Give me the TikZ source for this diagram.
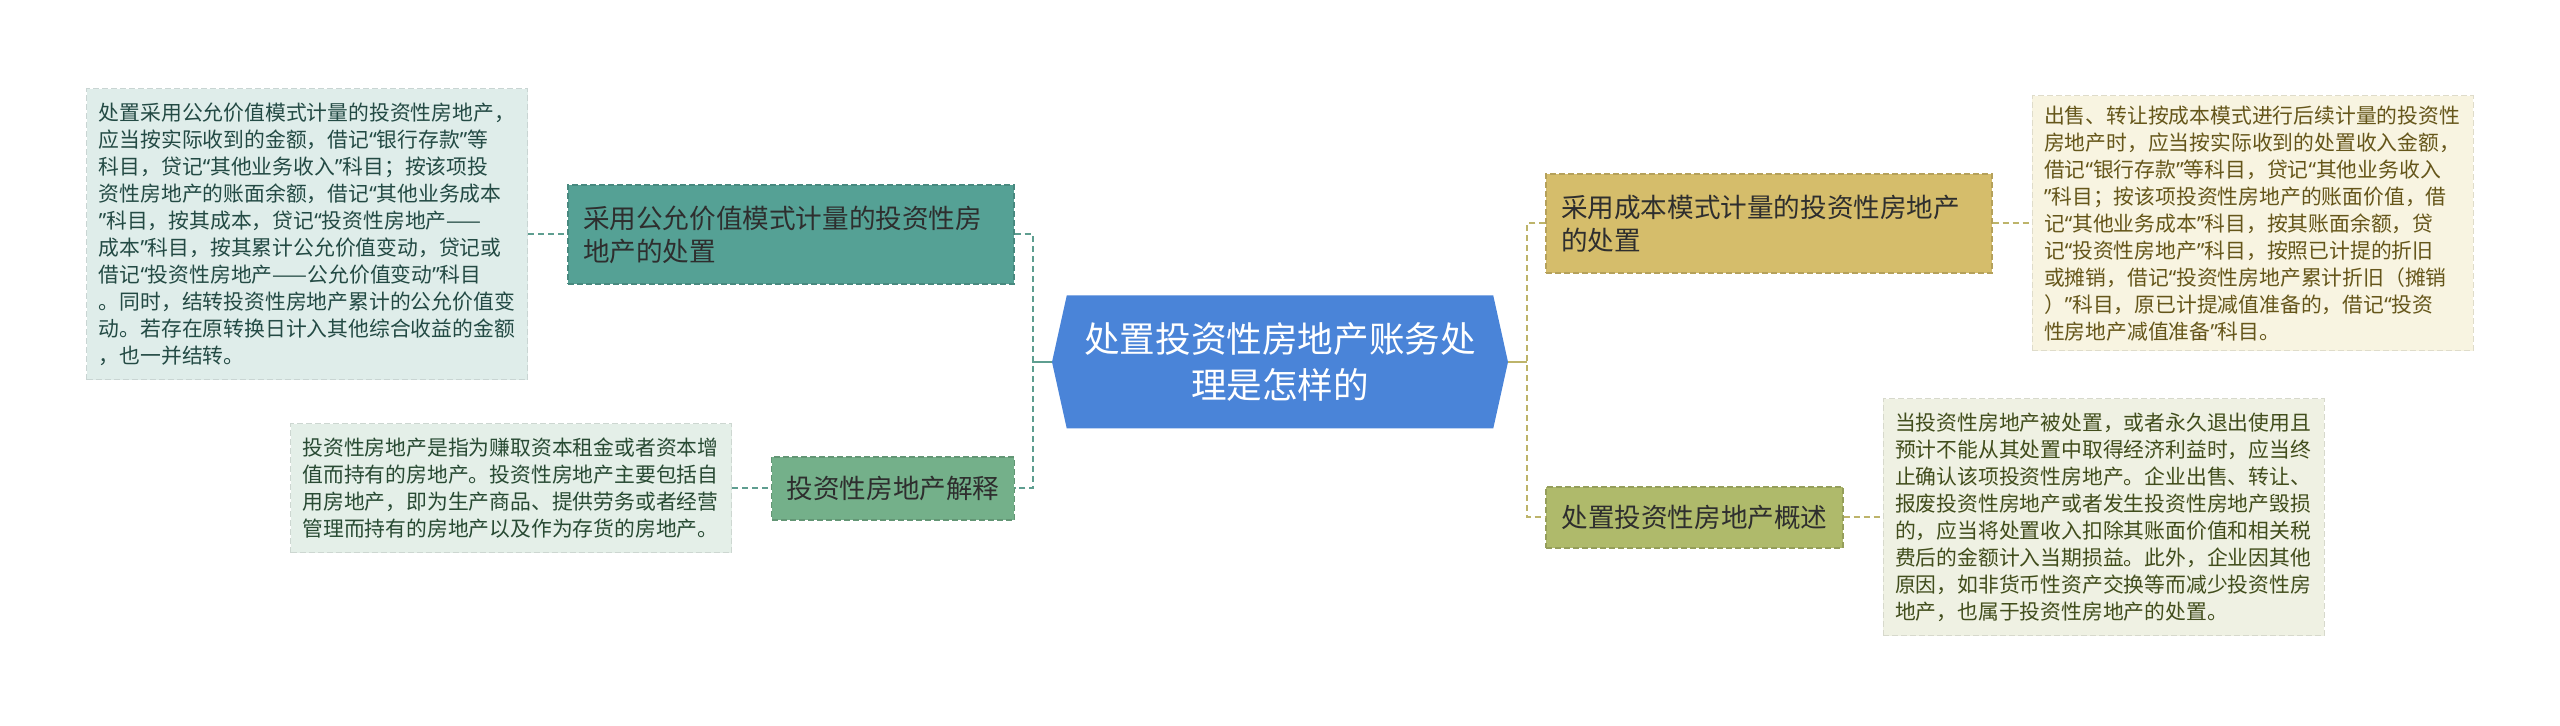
\documentclass[tikz,border=0pt]{standalone}
\usepackage{fontspec}
\setmainfont{Noto Sans CJK SC}
\newfontfamily\quotefont{Noto Sans}
\newcommand\oq{{\quotefont “}}
\newcommand\cq{{\quotefont ”}}
\usetikzlibrary{positioning,shapes.symbols}
\definecolor{hubblue}{HTML}{4A84D8}
\definecolor{tealnode}{HTML}{55A195}
\definecolor{greennode}{HTML}{74B08A}
\definecolor{goldnode}{HTML}{D5BD6B}
\definecolor{olivenode}{HTML}{AFBA6B}
\definecolor{fairbg}{HTML}{DFEDEA}
\definecolor{explbg}{HTML}{E4EFE8}
\definecolor{costbg}{HTML}{F8F4E1}
\definecolor{overbg}{HTML}{EFF1E3}
\definecolor{fairink}{HTML}{234A44}
\definecolor{explink}{HTML}{284A33}
\definecolor{costink}{HTML}{65561A}
\definecolor{overink}{HTML}{414D1C}
\definecolor{ink}{HTML}{2E2E2E}
\definecolor{tealline}{HTML}{5E9E90}
\definecolor{oliveline}{HTML}{BDB46A}

\begin{document}
\begin{tikzpicture}[x=0.5pt,y=-0.5pt,
  node distance=19.5pt,
  hubnode/.style={signal,signal to=west and east,signal pointer angle=155,
    fill=hubblue,text=white,minimum width=228pt,minimum height=66.5pt,
    align=center,inner sep=0pt,font=\fontsize{17.8pt}{23.3pt}\selectfont},
  topic/.style={draw=#1!85!black,fill=#1,dash pattern=on 3pt off 1.5pt,
    line width=0.6pt,text=ink,inner xsep=7.5pt,
    font=\fontsize{13.3pt}{16.5pt}\selectfont},
  note/.style 2 args={draw=#1!90!black,fill=#1,text=#2,
    dash pattern=on 3pt off 1.5pt,line width=0.5pt,
    text width=208.5pt,inner xsep=6pt,align=left,
    font=\fontsize{10.4pt}{13.5pt}\selectfont},
  lline/.style={draw=tealline,line width=1pt,dash pattern=on 3pt off 2pt},
  rline/.style={draw=oliveline,line width=1pt,dash pattern=on 3pt off 2pt},
  lstem/.style={draw=tealline,line width=1.2pt},
  rstem/.style={draw=oliveline,line width=1.2pt}]
\fill[white] (0,0) rectangle (2560,726);
\node[hubnode] (hub) at (1280,362) {处置投资性房地产账务处\\理是怎样的};
% left side
\node[topic=tealnode,minimum height=49.5pt,text width=208pt,align=left]
  (fair) at (791,234.5) {采用公允价值模式计量的投资性房\\地产的处置};
\node[topic=greennode,minimum width=121pt,minimum height=31.5pt]
  (expl) at (893,488.5) {投资性房地产解释};
\node[note={fairbg}{fairink},minimum height=145.5pt,left=of fair] (fairnote)
  {处置采用公允价值模式计量的投资性房地产，\\
   应当按实际收到的金额，借记\oq 银行存款\cq 等\\
   科目，贷记\oq 其他业务收入\cq 科目；按该项投\\
   资性房地产的账面余额，借记\oq 其他业务成本\\
   \cq 科目，按其成本，贷记\oq 投资性房地产——\\
   成本\cq 科目，按其累计公允价值变动，贷记或\\
   借记\oq 投资性房地产——公允价值变动\cq 科目\\
   。同时，结转投资性房地产累计的公允价值变\\
   动。若存在原转换日计入其他综合收益的金额\\
   ，也一并结转。};
\node[note={explbg}{explink},minimum height=64.5pt,left=of expl] (explnote)
  {投资性房地产是指为赚取资本租金或者资本增\\
   值而持有的房地产。投资性房地产主要包括自\\
   用房地产，即为生产商品、提供劳务或者经营\\
   管理而持有的房地产以及作为存货的房地产。};
% right side
\node[topic=goldnode,minimum height=49.5pt,text width=208pt,align=left]
  (cost) at (1769,223.5) {采用成本模式计量的投资性房地产\\的处置};
\node[topic=olivenode,minimum width=148.5pt,minimum height=30.5pt]
  (over) at (1694.5,517.5) {处置投资性房地产概述};
\node[note={costbg}{costink},minimum height=127.5pt,right=of cost] (costnote)
  {出售、转让按成本模式进行后续计量的投资性\\
   房地产时，应当按实际收到的处置收入金额，\\
   借记\oq 银行存款\cq 等科目，贷记\oq 其他业务收入\\
   \cq 科目；按该项投资性房地产的账面价值，借\\
   记\oq 其他业务成本\cq 科目，按其账面余额，贷\\
   记\oq 投资性房地产\cq 科目，按照已计提的折旧\\
   或摊销，借记\oq 投资性房地产累计折旧（摊销\\
   ）\cq 科目，原已计提减值准备的，借记\oq 投资\\
   性房地产减值准备\cq 科目。};
\node[note={overbg}{overink},minimum height=118.5pt,right=of over] (overnote)
  {当投资性房地产被处置，或者永久退出使用且\\
   预计不能从其处置中取得经济利益时，应当终\\
   止确认该项投资性房地产。企业出售、转让、\\
   报废投资性房地产或者发生投资性房地产毁损\\
   的，应当将处置收入扣除其账面价值和相关税\\
   费后的金额计入当期损益。此外，企业因其他\\
   原因，如非货币性资产交换等而减少投资性房\\
   地产，也属于投资性房地产的处置。};
% connectors
\coordinate (ljoin) at (1033,362);
\coordinate (rjoin) at (1527,362);
\draw[lstem] (hub.west) -- (ljoin);
\draw[lline] (fair.east) -| (ljoin) |- (expl.east);
\draw[lline] (fairnote.east) -- (fair.west);
\draw[lline] (explnote.east) -- (expl.west);
\draw[rstem] (hub.east) -- (rjoin);
\draw[rline] (cost.west) -| (rjoin) |- (over.west);
\draw[rline] (cost.east) -- (cost.east -| costnote.west);
\draw[rline] (over.east) -- (over.east -| overnote.west);
\end{tikzpicture}
\end{document}
